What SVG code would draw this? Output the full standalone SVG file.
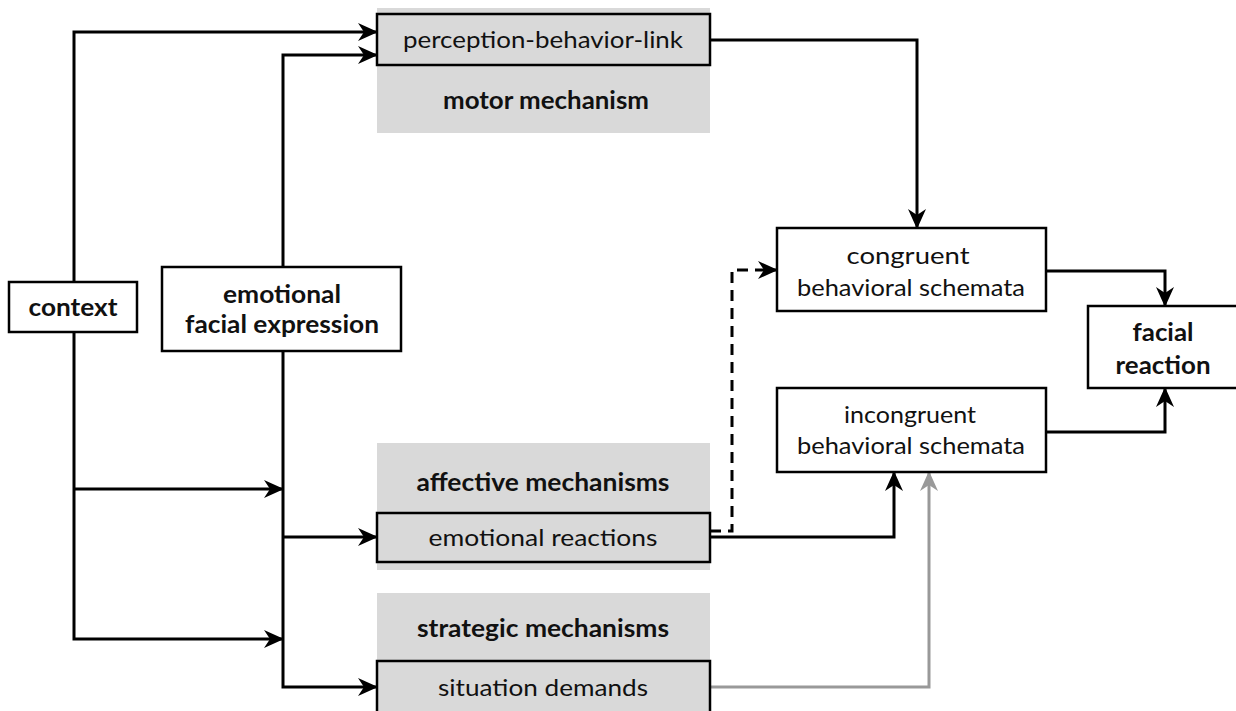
<svg xmlns="http://www.w3.org/2000/svg" width="1236" height="711" viewBox="0 0 1236 711">
<defs>
<marker id="ah" viewBox="-22 -11 24 22" refX="0" refY="0" markerWidth="24" markerHeight="22" markerUnits="userSpaceOnUse" orient="auto">
<path d="M1,0 L-19,-9 L-13,0 L-19,9 Z" fill="#000"/>
</marker>
<marker id="ahg" viewBox="-22 -11 24 22" refX="0" refY="0" markerWidth="24" markerHeight="22" markerUnits="userSpaceOnUse" orient="auto">
<path d="M1,0 L-19,-9 L-13,0 L-19,9 Z" fill="#999"/>
</marker>
</defs>
<style>
.bg{fill:#d9d9d9;stroke:none}
.box{fill:#fff;stroke:#000;stroke-width:2.5}
.gbox{fill:#d9d9d9;stroke:#000;stroke-width:2.5}
.t{font-family:Lato,"Liberation Sans",sans-serif;font-size:24px;fill:#111;text-anchor:middle}
.b{font-weight:bold}
.c{fill:none;stroke:#000;stroke-width:3}
.ca{fill:none;stroke:#000;stroke-width:3;marker-end:url(#ah)}
.cd{fill:none;stroke:#000;stroke-width:3;stroke-dasharray:11 7;marker-end:url(#ah)}
.cg{fill:none;stroke:#999;stroke-width:3;marker-end:url(#ahg)}
</style>
<rect width="1236" height="711" fill="#fff"/>
<g id="connectors">
<path class="ca" d="M74,282 V32 H377"/>
<path class="ca" d="M283,267 V55 H377"/>
<path class="ca" d="M74,332 V639 H283"/>
<path class="ca" d="M74,489 H283"/>
<path class="ca" d="M283,351 V687 H377"/>
<path class="ca" d="M283,537 H377"/>
<path class="ca" d="M710,40 H917 V228"/>
<path class="cd" d="M710,531 H732 V270 H777"/>
<path class="ca" d="M710,537 H894 V472"/>
<path class="cg" d="M710,687 H929 V472"/>
<path class="ca" d="M1046,271 H1165 V306"/>
<path class="ca" d="M1046,432 H1165 V388"/>
</g>
<g id="motor">
<rect class="bg" x="377" y="8" width="333" height="125"/>
<rect class="gbox" x="377" y="14" width="333" height="51"/>
<text class="t" x="543" y="48" textLength="280" lengthAdjust="spacingAndGlyphs">perception-behavior-link</text>
<text class="t b" x="546" y="109" textLength="206" lengthAdjust="spacingAndGlyphs">motor mechanism</text>
</g>
<g id="affective">
<rect class="bg" x="377" y="443" width="333" height="127"/>
<rect class="gbox" x="377" y="513" width="333" height="49"/>
<text class="t b" x="543" y="491" textLength="253" lengthAdjust="spacingAndGlyphs">affective mechanisms</text>
<text class="t" x="543" y="546" textLength="229" lengthAdjust="spacingAndGlyphs">emotional reactions</text>
</g>
<g id="strategic">
<rect class="bg" x="377" y="593" width="333" height="125"/>
<rect class="gbox" x="377" y="661" width="333" height="60"/>
<text class="t b" x="543" y="637" textLength="252" lengthAdjust="spacingAndGlyphs">strategic mechanisms</text>
<text class="t" x="543" y="696" textLength="210" lengthAdjust="spacingAndGlyphs">situation demands</text>
</g>
<g id="context">
<rect class="box" x="9" y="282" width="128" height="50"/>
<text class="t b" x="73" y="316" textLength="89" lengthAdjust="spacingAndGlyphs">context</text>
</g>
<g id="emotional">
<rect class="box" x="162" y="267" width="239" height="84"/>
<text class="t b" x="282" y="303" textLength="118" lengthAdjust="spacingAndGlyphs">emotional</text>
<text class="t b" x="282" y="333" textLength="194" lengthAdjust="spacingAndGlyphs">facial expression</text>
</g>
<g id="congruent">
<rect class="box" x="777" y="228" width="269" height="83"/>
<text class="t" x="908" y="264" textLength="123" lengthAdjust="spacingAndGlyphs">congruent</text>
<text class="t" x="911" y="296" textLength="228" lengthAdjust="spacingAndGlyphs">behavioral schemata</text>
</g>
<g id="incongruent">
<rect class="box" x="777" y="388" width="269" height="84"/>
<text class="t" x="910" y="423" textLength="132" lengthAdjust="spacingAndGlyphs">incongruent</text>
<text class="t" x="911" y="454" textLength="228" lengthAdjust="spacingAndGlyphs">behavioral schemata</text>
</g>
<g id="facial">
<rect class="box" x="1088" y="306" width="160" height="82"/>
<text class="t b" x="1163" y="341" textLength="61" lengthAdjust="spacingAndGlyphs">facial</text>
<text class="t b" x="1163" y="374" textLength="95" lengthAdjust="spacingAndGlyphs">reaction</text>
</g>
</svg>
